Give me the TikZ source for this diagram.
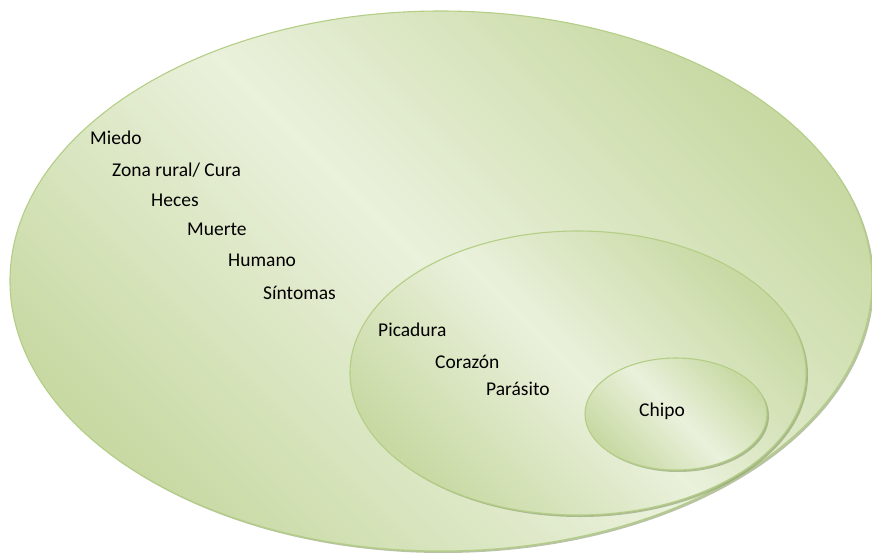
\documentclass[tikz,border=0pt]{standalone}
\usepackage{fontspec}
\setmainfont{Carlito}
\definecolor{leafdark}{RGB}{200,217,163}
\definecolor{leaflight}{RGB}{234,241,220}
\definecolor{leafline}{RGB}{180,206,134}
\definecolor{leafshadow}{RGB}{135,155,100}
\tikzset{
	blob/.style={draw=leafline, line width=1.1pt, top color=leafdark, bottom color=leafdark, middle color=leaflight, shading angle=-45},
	blobshadow/.style={fill=leafshadow, opacity=0.6},
	word/.style={anchor=base west, inner sep=0pt, font=\fontsize{19.5}{23}\selectfont},
}
\begin{document}
\begin{tikzpicture}[x=1pt, y=-1pt]
		%%%%% START %%%%%
		\useasboundingbox (0, 0) rectangle (872, 552);
		
		% outer set
		\fill[blobshadow] (443, 283) ellipse (431 and 270);
		\shade[blob] (441, 281) ellipse (431 and 270);
		
		% middle set
		\fill[blobshadow] (580, 375) ellipse (228 and 142);
		\shade[blob] (578, 373) ellipse (228 and 142);
		
		% inner set
		\fill[blobshadow] (678, 416) ellipse (91 and 56);
		\shade[blob] (676, 414) ellipse (91 and 56);
		
		\node[word] (miedo) at (90, 144) {Miedo};
		\node[word] (zona) at (112, 176) {Zona rural/ Cura};
		\node[word] (heces) at (151, 206.5) {Heces};
		\node[word] (muerte) at (187, 235) {Muerte};
		\node[word] (humano) at (228, 266) {Humano};
		\node[word] (sintomas) at (263, 299) {Síntomas};
		
		\node[word] (picadura) at (378, 336.5) {Picadura};
		\node[word] (corazon) at (435, 368) {Corazón};
		\node[word] (parasito) at (486, 395) {Parásito};
		
		\node[word] (chipo) at (639, 416.5) {Chipo};
		%%%%% END %%%%%
	\end{tikzpicture}
\end{document}
